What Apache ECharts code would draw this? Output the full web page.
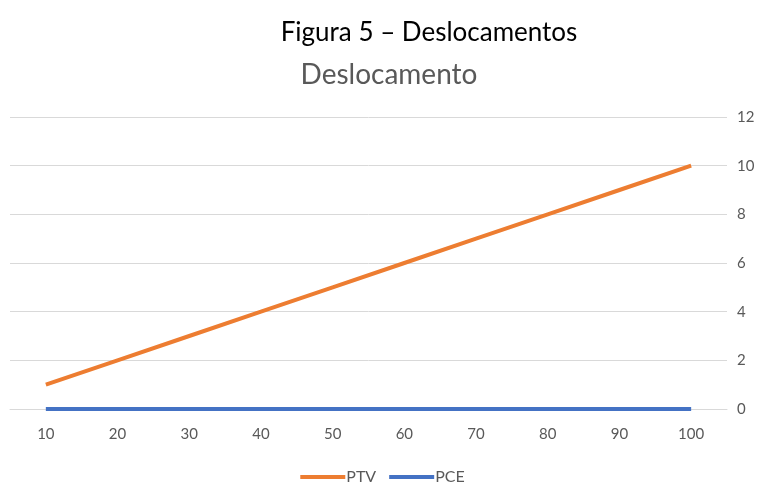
<!DOCTYPE html>
<html>
<head>
<meta charset="utf-8">
<script src="https://cdn.jsdelivr.net/npm/echarts@6/dist/echarts.min.js"></script>
<style>
  html, body { margin: 0; padding: 0; background: #fff; }
  #chart { width: 765px; height: 483px; }
</style>
</head>
<body>
<div id="chart"></div>
<script>
// categorias do eixo x
var categories = ['10', '20', '30', '40', '50', '60', '70', '80', '90', '100'];
// series
var ptv = [1, 2, 3, 4, 5, 6, 7, 8, 9, 10];
var pce = [0, 0, 0, 0, 0, 0, 0, 0, 0, 0];
var legendNames = ['PTV', 'PCE'];

var myChart = echarts.init(document.getElementById('chart'));
var font = 'Lato, "Open Sans", sans-serif';
var option = {
  animation: false,
  title: [
    {
      text: 'Figura 5 – Deslocamentos',
      left: 424, top: 15, textAlign: 'center',
      textStyle: { color: '#000', fontSize: 26, fontWeight: 'normal', fontFamily: font }
    },
    {
      text: 'Deslocamento',
      left: 384, top: 56, textAlign: 'center',
      textStyle: { color: '#595959', fontSize: 28, fontWeight: 'normal', fontFamily: font }
    }
  ],
  legend: {
    data: legendNames,
    top: 464,
    left: 'center',
    itemWidth: 45,
    itemHeight: 4,
    itemGap: 13,
    icon: 'rect',
    textStyle: { color: '#595959', fontSize: 16, fontFamily: font, padding: [0, 0, 0, -4] }
  },
  grid: { left: 10, right: 38, top: 117, bottom: 74, containLabel: false },
  xAxis: {
    type: 'category',
    data: categories,
    boundaryGap: true,
    axisLine: { lineStyle: { color: '#d9d9d9' } },
    axisTick: { show: false },
    axisLabel: { color: '#595959', fontSize: 15, fontFamily: font, margin: 18 }
  },
  yAxis: {
    type: 'value',
    position: 'right',
    min: 0, max: 12, interval: 2,
    axisLine: { show: false },
    axisTick: { show: false },
    splitLine: { lineStyle: { color: '#d9d9d9' } },
    axisLabel: { color: '#595959', fontSize: 15, fontFamily: font, margin: 10 }
  },
  series: [
    {
      name: 'PTV', type: 'line', data: ptv, symbol: 'none',
      lineStyle: { color: '#ED7D31', width: 4 }, itemStyle: { color: '#ED7D31' }
    },
    {
      name: 'PCE', type: 'line', data: pce, symbol: 'none',
      lineStyle: { color: '#4472C4', width: 4 }, itemStyle: { color: '#4472C4' }
    }
  ]
};
myChart.setOption(option);
</script>
</body>
</html>
